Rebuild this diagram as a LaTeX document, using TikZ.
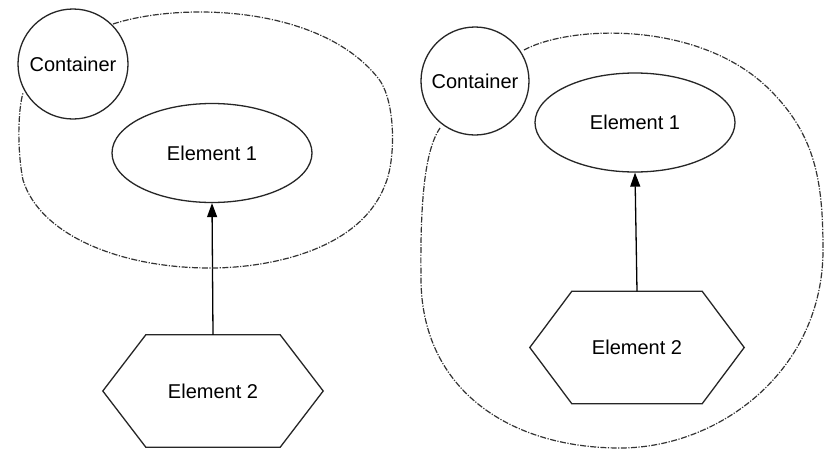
\documentclass[tikz,border=0pt]{standalone}
\usepackage{fontspec}
\setmainfont{Liberation Sans}
\usetikzlibrary{shapes.geometric,arrows.meta}

\tikzset{
  outline/.style={draw=black!85, line width=1.3pt},
  label text/.style={font=\fontsize{20}{24}\selectfont, text=black},
  contcircle/.style={outline, circle, minimum size=#1, inner sep=0pt, label text},
  elemoval/.style={outline, ellipse, minimum width=200pt, minimum height=99pt, inner sep=0pt, label text},
  hexbox/.style={minimum width=#1, minimum height=112pt, inner sep=0pt, label text},
  boundary/.style={draw=black!80, line width=1.2pt, dash pattern=on 6pt off 1.5pt on 1.2pt off 1.5pt},
  link/.style={draw=black, line width=1.3pt, -{Triangle[length=14pt,width=10pt]}}
}

% draws a flat-topped hexagon around a node
\newcommand{\hexaround}[2]{%
  \draw[outline] ([xshift=#2]#1.north west) -- ([xshift=-#2]#1.north east)
    -- (#1.east) -- ([xshift=-#2]#1.south east)
    -- ([xshift=#2]#1.south west) -- (#1.west) -- cycle;}

\begin{document}
\begin{tikzpicture}[x=1pt, y=-1pt]
\useasboundingbox[fill=white] (0,0) rectangle (824,450);

% ---------- left: element 1 inside the container ----------
\node[contcircle=110pt] (c1) at (73,64) {Container};
\node[elemoval] (e1a) at (212,153) {Element 1};
\node[hexbox=220pt] (e2a) at (213,391) {Element 2};
\hexaround{e2a}{43pt}
\draw[link] (e2a.north) -- (e1a.south);

\draw[boundary] (113,24) .. controls (180,2) and (320,5) .. (378,78)
  .. controls (396,100) and (396,160) .. (385,185)
  .. controls (360,250) and (270,268) .. (210,268)
  .. controls (120,268) and (40,235) .. (23,180)
  .. controls (17,150) and (18,110) .. (23,93);

% ---------- right: both elements inside the container ----------
\node[contcircle=108pt] (c2) at (475,81) {Container};
\node[elemoval] (e1b) at (635,122.5) {Element 1};
\node[hexbox=214pt] (e2b) at (637,347.5) {Element 2};
\hexaround{e2b}{42pt}
\draw[link] (e2b.north) -- (e1b.south);

\draw[boundary] (524,50) .. controls (570,25) and (700,20) .. (770,90)
  .. controls (815,135) and (823,180) .. (823,250)
  .. controls (823,370) and (720,448) .. (620,448)
  .. controls (510,448) and (422,390) .. (421,280)
  .. controls (420,200) and (425,150) .. (440,128);
\end{tikzpicture}
\end{document}
